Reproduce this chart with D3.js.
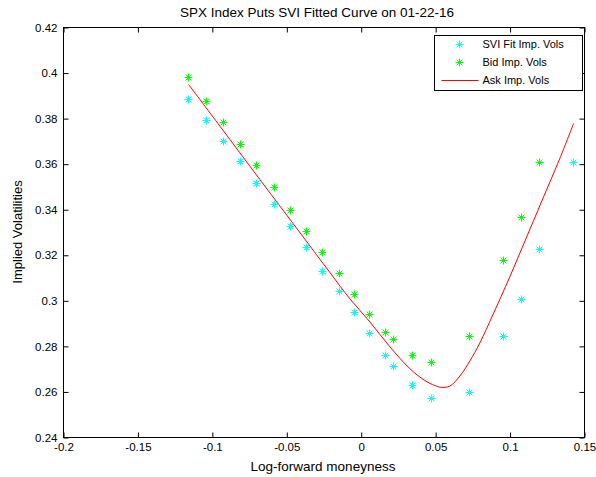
<!DOCTYPE html>
<html>
<head>
<meta charset="utf-8">
<script src="https://cdn.jsdelivr.net/npm/d3@7"></script>
<style>
  html, body { margin: 0; padding: 0; background: #fff; }
  svg { display: block; }
  text { font-family: "Liberation Sans", Arial, sans-serif; fill: #000; }
</style>
</head>
<body>
<svg id="chart" width="596" height="477"></svg>
<script>
// Log-forward moneyness of each quoted put
const fitMoneyness = [-0.1160, -0.1036, -0.0925, -0.0813, -0.0701, -0.0585, -0.0473, -0.0370,
  -0.0258, -0.0149, -0.0046, 0.0059, 0.0166, 0.0215, 0.0343, 0.0473, 0.0725, 0.0953,
  0.1077, 0.1195, 0.1425];
// SVI fitted implied vols
const fitVols = [0.3883, 0.3792, 0.3701, 0.3613, 0.3517, 0.3422, 0.3328, 0.3232,
  0.3130, 0.3041, 0.2948, 0.2857, 0.2761, 0.2713, 0.2630, 0.2571, 0.2596, 0.2845,
  0.3005, 0.3225, 0.3607];

const bidMoneyness = [-0.1160, -0.1036, -0.0925, -0.0813, -0.0701, -0.0585, -0.0473, -0.0370,
  -0.0258, -0.0149, -0.0046, 0.0059, 0.0166, 0.0215, 0.0343, 0.0473, 0.0725, 0.0953,
  0.1077, 0.1195];
const bidVols = [0.3982, 0.3876, 0.3782, 0.3685, 0.3594, 0.3496, 0.3397, 0.3304,
  0.3210, 0.3120, 0.3027, 0.2940, 0.2862, 0.2830, 0.2760, 0.2729, 0.2845, 0.3177,
  0.3367, 0.3607];

// Ask implied vol curve
const askMoneyness = [-0.1160, -0.0947, -0.0679, -0.0410, -0.0209, -0.0075, 0.0059, 0.0193,
  0.0327, 0.0428, 0.0495, 0.0542, 0.0596, 0.0663, 0.0730, 0.0797, 0.0884, 0.0998,
  0.1112, 0.1219, 0.1333, 0.1427];
const askVols = [0.3950, 0.3765, 0.3531, 0.3298, 0.3123, 0.3008, 0.2907, 0.2798,
  0.2702, 0.2650, 0.2628, 0.2620, 0.2626, 0.2670, 0.2736, 0.2815, 0.2938, 0.3105,
  0.3281, 0.3447, 0.3623, 0.3779];

const xTicks = [-0.2, -0.15, -0.1, -0.05, 0, 0.05, 0.1, 0.15];
const yTicks = [0.24, 0.26, 0.28, 0.3, 0.32, 0.34, 0.36, 0.38, 0.4, 0.42];

const titleText = "SPX Index Puts SVI Fitted Curve on 01-22-16";
const xLabel = "Log-forward moneyness";
const yLabel = "Implied Volatilities";
const legendLabels = ["SVI Fit Imp. Vols", "Bid Imp. Vols", "Ask Imp. Vols"];

const colFit = "#00ffff", colBid = "#00ff00", colAsk = "#ff0000";

const svg = d3.select("#chart");
const L = 63, R = 584, T = 27, B = 437;
const x = d3.scaleLinear().domain([-0.2, 0.15]).range([L, R]);
const y = d3.scaleLinear().domain([0.24, 0.42]).range([B, T]);

const fmt = d => String(+d.toFixed(2));
const g = svg.append("g").attr("transform", "translate(0.5,0.5)");

// axes with inward ticks, mirrored on top and right
const ax = (gen, tf) => {
  const a = g.append("g").attr("transform", tf).call(gen);
  a.select(".domain").remove();
  a.selectAll("text").style("font-size", "11.5px").style("font-family", "'Liberation Sans', Arial, sans-serif");
  return a;
};
ax(d3.axisBottom(x).tickValues(xTicks).tickFormat(fmt).tickSizeInner(-5).tickSizeOuter(0).tickPadding(5), `translate(0,${B})`);
ax(d3.axisTop(x).tickValues(xTicks).tickFormat("").tickSizeInner(-5).tickSizeOuter(0), `translate(0,${T})`);
ax(d3.axisLeft(y).tickValues(yTicks).tickFormat(fmt).tickSizeInner(-5).tickSizeOuter(0).tickPadding(6), `translate(${L},0)`);
ax(d3.axisRight(y).tickValues(yTicks).tickFormat("").tickSizeInner(-5).tickSizeOuter(0), `translate(${R},0)`);

g.append("rect").attr("x", L).attr("y", T).attr("width", R - L).attr("height", B - T)
  .attr("fill", "none").attr("stroke", "#000").attr("stroke-width", 1);

// asterisk marker
const star = r => {
  const d = r * 0.72;
  return `M${-r},0L${r},0M0,${-r}L0,${r}M${-d},${-d}L${d},${d}M${-d},${d}L${d},${-d}`;
};

const line = d3.line().x(d => x(d[0])).y(d => y(d[1])).curve(d3.curveCatmullRom.alpha(0.5));
g.append("path").datum(d3.zip(askMoneyness, askVols)).attr("d", line)
  .attr("fill", "none").attr("stroke", colAsk).attr("stroke-width", 1);

const drawStars = (xs, ys, col) => {
  g.append("g").selectAll("path").data(d3.zip(xs, ys)).join("path")
    .attr("transform", d => `translate(${Math.round(x(d[0]))},${Math.round(y(d[1]))})`)
    .attr("d", star(4)).attr("fill", "none").attr("stroke", col).attr("stroke-width", 1);
};
drawStars(fitMoneyness, fitVols, colFit);
drawStars(bidMoneyness, bidVols, colBid);

// title and axis labels
svg.append("text").attr("x", 317).attr("y", 17).attr("text-anchor", "middle")
  .style("font-size", "13.5px").text(titleText);
svg.append("text").attr("x", 323).attr("y", 471).attr("text-anchor", "middle")
  .style("font-size", "13.5px").text(xLabel);
svg.append("text").attr("transform", `translate(22,${(T + B) / 2}) rotate(-90)`).attr("text-anchor", "middle")
  .style("font-size", "13px").text(yLabel);

// legend
const lg = g.append("g");
lg.append("rect").attr("x", 434).attr("y", 35).attr("width", 148).attr("height", 55)
  .attr("fill", "#fff").attr("stroke", "#000");
const rows = [44, 62, 80];
lg.append("path").attr("transform", `translate(459,${rows[0]})`).attr("d", star(4))
  .attr("fill", "none").attr("stroke", colFit);
lg.append("path").attr("transform", `translate(459,${rows[1]})`).attr("d", star(4))
  .attr("fill", "none").attr("stroke", colBid);
lg.append("line").attr("x1", 441).attr("x2", 478).attr("y1", rows[2]).attr("y2", rows[2])
  .attr("stroke", colAsk);
legendLabels.forEach((t, i) => {
  lg.append("text").attr("x", 482).attr("y", rows[i]).attr("dy", "0.35em")
    .style("font-size", "11px").text(t);
});
</script>
</body>
</html>
